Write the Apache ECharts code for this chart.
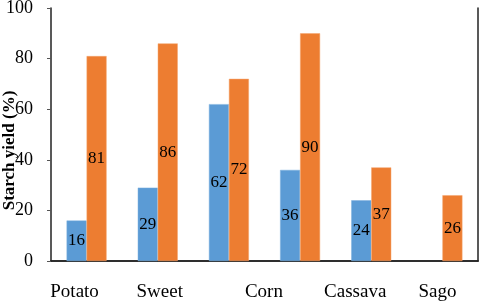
<!DOCTYPE html>
<html lang="en">
<head>
  <meta charset="UTF-8">
  <title>Starch yield</title>
  <script src="https://cdn.jsdelivr.net/npm/echarts@6/dist/echarts.min.js"></script>
  <style>
    html, body { margin: 0; padding: 0; background: #fff; }
  </style>
</head>
<body>
  <div id="main" style="width: 480px;height:305px;"></div>
  <script>
    // six bar groups, but only five names on the axis (Corn covers groups 3-4)
    var categories = ['Potato', 'Sweet', 'Corn', 'Corn', 'Cassava', 'Sago'];
    var axisNames = ['Potato', 'Sweet', 'Corn', '', 'Cassava', 'Sago'];
    var blueValues = [16, 29, 62, 36, 24, null];
    var orangeValues = [81, 86, 72, 90, 37, 26];
    var yTicks = [0, 20, 40, 60, 80, 100];

    // horizontal nudge of each axis name (px), to match the picture
    var nameShift = [-12, 2, 35, 0, -16, -5];

    var serif = '"Liberation Serif", "DejaVu Serif", serif';
    var frame = { show: true, lineStyle: { color: '#222', width: 1.5 } };

    var myChart = echarts.init(document.getElementById('main'));

    var xData = categories.map(function (c, i) {
      var s = nameShift[i];
      return {
        value: c,
        textStyle: { padding: s < 0 ? [0, -2 * s, 0, 0] : [0, 0, 0, 2 * s] }
      };
    });

    var barLabel = {
      show: true,
      position: 'inside',
      color: '#000',
      fontFamily: serif,
      fontSize: 17
    };

    var option = {
      animation: false,
      grid: {
        left: 51, right: 2, top: 8, bottom: 44,
        outerBoundsMode: 'none',
        containLabel: false
      },
      xAxis: [
        {
          type: 'category',
          data: xData,
          axisLine: frame,
          axisTick: { show: false },
          axisLabel: {
            color: '#000',
            fontFamily: serif,
            fontSize: 19,
            margin: 22,
            interval: 0,
            formatter: function (v, i) { return axisNames[i]; }
          }
        },
        // top edge of the frame
        {
          type: 'category',
          position: 'top',
          data: categories,
          axisLine: frame,
          axisTick: { show: false },
          axisLabel: { show: false }
        }
      ],
      yAxis: [
        {
          type: 'value',
          min: yTicks[0],
          max: yTicks[yTicks.length - 1],
          interval: yTicks[1] - yTicks[0],
          name: 'Starch yield (%)',
          nameLocation: 'middle',
          nameGap: 33,
          nameMoveOverlap: false,
          nameTextStyle: {
            color: '#000',
            fontFamily: serif,
            fontWeight: 'bold',
            fontSize: 17,
            padding: [0, 32, 0, 0]
          },
          splitLine: { show: false },
          axisLine: frame,
          axisTick: { show: true, length: 4, lineStyle: { color: '#555' } },
          axisLabel: {
            color: '#000',
            fontFamily: serif,
            fontSize: 18,
            margin: 18
          }
        },
        // right edge of the frame
        {
          type: 'value',
          position: 'right',
          min: yTicks[0],
          max: yTicks[yTicks.length - 1],
          interval: yTicks[1] - yTicks[0],
          splitLine: { show: false },
          axisLine: frame,
          axisTick: { show: false },
          axisLabel: { show: false }
        }
      ],
      series: [
        {
          type: 'bar',
          data: blueValues,
          barWidth: 20,
          barGap: '0%',
          itemStyle: { color: '#5B9BD5', borderColor: '#7FB0DE', borderWidth: 0.5 },
          label: barLabel
        },
        {
          type: 'bar',
          data: orangeValues,
          barWidth: 20,
          barGap: '0%',
          itemStyle: { color: '#ED7D31', borderColor: '#F4A46E', borderWidth: 0.5 },
          label: barLabel
        }
      ]
    };

    myChart.setOption(option);
  </script>
</body>
</html>
